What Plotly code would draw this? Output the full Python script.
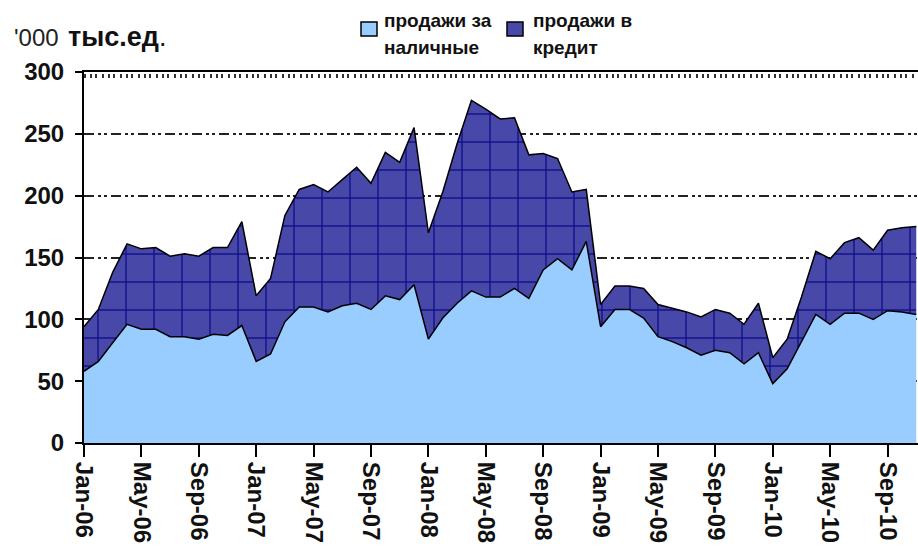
import plotly.graph_objects as go
import pandas as pd

# Categories: monthly, Jan-06 .. Nov-10
months = pd.date_range("2006-01-01", periods=59, freq="MS").strftime("%b-%y").tolist()
tick_labels = months[::4]

# '000 units
cash = [58, 66, 81, 96, 92, 92, 86, 86, 84, 88, 87, 95,
        66, 72, 98, 110, 110, 106, 111, 113, 108, 119, 116, 128,
        84, 101, 113, 123, 118, 118, 125, 117, 140, 149, 140, 163,
        94, 108, 108, 101, 86, 82, 77, 71, 75, 73, 64, 73,
        48, 60, 82, 104, 96, 105, 105, 100, 107, 106, 104]
credit = [36, 42, 57, 65, 65, 66, 65, 67, 67, 70, 71, 84,
          53, 61, 86, 95, 99, 97, 102, 110, 102, 116, 111, 127,
          86, 102, 129, 154, 152, 144, 138, 116, 94, 81, 63, 42,
          18, 19, 19, 24, 26, 27, 29, 31, 33, 32, 32, 40,
          21, 24, 36, 51, 53, 57, 61, 56, 65, 68, 71]

series_names = ["продажи за наличные", "продажи в кредит"]
legend_lines = [["продажи за", "наличные"], ["продажи в", "кредит"]]
title_parts = ["'000", "<b>тыс.ед</b>."]

CASH_COLOR = "#99CCFF"
CREDIT_COLOR = "#4848A8"
FONT = "Liberation Sans, Arial, sans-serif"

W, H = 918, 548
PLOT_L, PLOT_T, PLOT_B = 84, 72, 443
L, T, B = PLOT_L, PLOT_T, H - PLOT_B
pw, ph = W - L, PLOT_B - PLOT_T

fig = go.Figure()
fig.add_trace(go.Scatter(
    x=months, y=cash, name=series_names[0], stackgroup="s", mode="lines",
    line=dict(color="black", width=1.5), fillcolor=CASH_COLOR, showlegend=False))
fig.add_trace(go.Scatter(
    x=months, y=credit, name=series_names[1], stackgroup="s", mode="lines",
    line=dict(color="black", width=1.5), fillcolor=CREDIT_COLOR,
    fillpattern=dict(shape="+", size=28, solidity=0.1, fgcolor="#12128C",
                     bgcolor=CREDIT_COLOR, fillmode="replace"),
    showlegend=False))


def px_x(px):
    return (px - PLOT_L) / pw


def px_y(py):
    return (PLOT_B - py) / ph


shapes = [
    dict(type="rect", xref="paper", yref="paper",
         x0=px_x(361), x1=px_x(377), y0=px_y(36), y1=px_y(22),
         fillcolor=CASH_COLOR, line=dict(color="black", width=1.5)),
    dict(type="rect", xref="paper", yref="paper",
         x0=px_x(507), x1=px_x(523), y0=px_y(36), y1=px_y(22),
         fillcolor=CREDIT_COLOR, line=dict(color="black", width=1.5)),
    # tick-like texture under the top border
    dict(type="line", xref="paper", yref="paper", layer="above",
         x0=0, x1=1, y0=px_y(76), y1=px_y(76),
         line=dict(color="#333", width=4, dash="2px,4px,2px,3px,2px,5px")),
]

annotations = [
    dict(text=title_parts[0], xref="paper", yref="paper", x=px_x(12), y=px_y(37),
         xanchor="left", yanchor="middle", showarrow=False,
         font=dict(family=FONT, size=24, color="#222")),
    dict(text=title_parts[1], xref="paper", yref="paper", x=px_x(66), y=px_y(37),
         xanchor="left", yanchor="middle", showarrow=False,
         font=dict(family=FONT, size=27, color="#111")),
]
for lx, lines in zip([382, 531], legend_lines):
    for ly, line in zip([21, 48], lines):
        annotations.append(dict(
            text=line, xref="paper", yref="paper", x=px_x(lx), y=px_y(ly),
            xanchor="left", yanchor="middle", showarrow=False,
            font=dict(family=FONT, size=19, color="#111", weight="bold")))

fig.update_layout(
    width=W, height=H, autosize=False,
    margin=dict(l=L, r=0, t=T, b=B, pad=0),
    paper_bgcolor="white", plot_bgcolor="white",
    showlegend=False,
    shapes=shapes, annotations=annotations,
    xaxis=dict(
        type="category", range=[0, 58.12],
        tickmode="array", tickvals=tick_labels, ticktext=tick_labels,
        ticks="outside", ticklen=12, tickwidth=2, tickcolor="black",
        tickangle=90, tickfont=dict(family=FONT, size=24, color="#111", weight="bold"),
        showline=True, linecolor="black", linewidth=2, mirror=True,
        showgrid=False, zeroline=False, automargin=False),
    yaxis=dict(
        range=[0, 300], dtick=50, tick0=0,
        ticks="outside", ticklen=7, tickwidth=2, tickcolor="black",
        tickfont=dict(family=FONT, size=24, color="#111", weight="bold"),
        ticklabelstandoff=6,
        showline=True, linecolor="black", linewidth=2,
        showgrid=True, gridcolor="#222", gridwidth=1.5,
        griddash="10px,4px,3px,3px,3px,4px", zeroline=False, automargin=False),
)

fig.write_html(
    "out.html",
    config={"displayModeBar": False},
    post_script="document.body.style.margin='0';document.body.style.overflow='hidden';",
)
